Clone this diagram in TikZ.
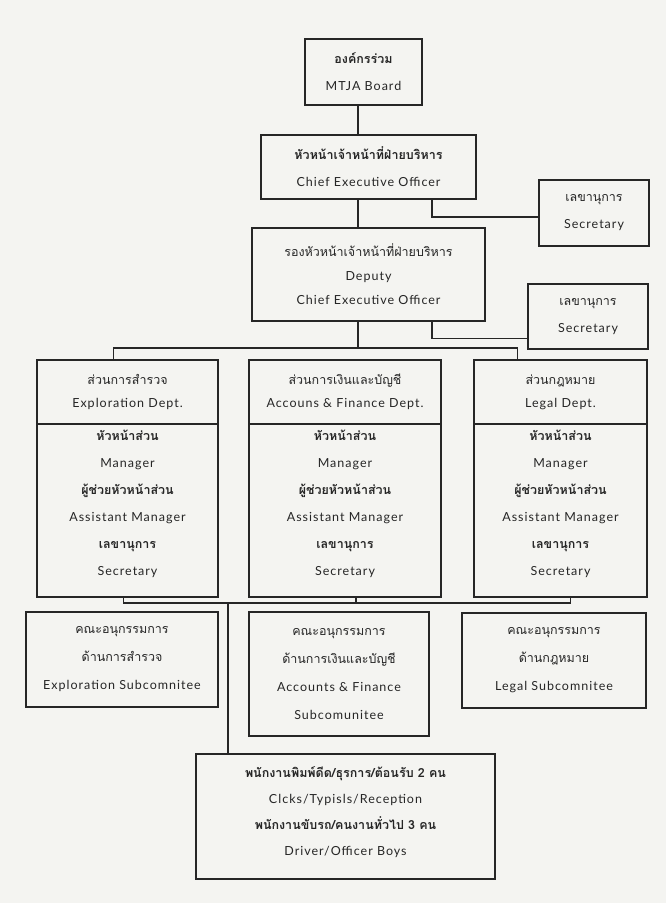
\documentclass[tikz,border=0pt]{standalone}
\usepackage{fontspec}
\setmainfont{Lato}[LetterSpace=8]
\newfontfamily\thai[Script=Thai]{Loma}
\usetikzlibrary{calc}
\definecolor{ink}{gray}{0.15}
\definecolor{paper}{rgb}{0.955,0.955,0.945}
\newcommand\deptstaff{{\thai\bfseries หัวหน้าส่วน}\\Manager\\{\thai\bfseries ผู้ช่วยหัวหน้าส่วน}\\Assistant Manager\\{\thai\bfseries เลขานุการ}\\Secretary\\[-12pt]\mbox{}}

\begin{document}
\begin{tikzpicture}[x=1pt,y=-1pt,
  box/.style={draw=ink,line width=1.1pt,inner sep=0pt,outer sep=0pt,align=center,text=ink,font=\fontsize{12.5}{27}\selectfont},
  link/.style={draw=ink,line width=1.1pt}]
\fill[paper] (0,0) rectangle (666,903);
\useasboundingbox (0,0) rectangle (666,903);

\node[box,minimum width=117,minimum height=66] (board) at (363.5,72) {{\thai\bfseries องค์กรร่วม}\\MTJA Board};
\node[box,minimum width=215,minimum height=64] (ceo) at (368.5,167) {{\thai\bfseries หัวหน้าเจ้าหน้าที่ฝ่ายบริหาร}\\Chief Executive Officer};
\node[box,minimum width=110,minimum height=66] (sec1) at (594,213) {{\thai เลขานุการ}\\Secretary};
\node[box,minimum width=233,minimum height=93] (dep) at (368.5,274.5) {{\thai รองหัวหน้าเจ้าหน้าที่ฝ่ายบริหาร}\\[-3pt]Deputy\\[-3pt]Chief Executive Officer};
\node[box,minimum width=120,minimum height=65] (sec2) at (588,316.5) {{\thai เลขานุการ}\\Secretary};

\node[box,minimum width=181,minimum height=64] (expl) at (127.5,392) {{\thai ส่วนการสำรวจ}\\[-4pt]Exploration Dept.};
\node[box,minimum width=181,minimum height=173,anchor=north] (explbody) at (expl.south) {\deptstaff};
\node[box,minimum width=192,minimum height=64] (acc) at (345,392) {{\thai ส่วนการเงินและบัญชี}\\[-4pt]Accouns \& Finance Dept.};
\node[box,minimum width=192,minimum height=173,anchor=north] (accbody) at (acc.south) {\deptstaff};
\node[box,minimum width=173,minimum height=64] (legal) at (560.5,392) {{\thai ส่วนกฎหมาย}\\[-4pt]Legal Dept.};
\node[box,minimum width=173,minimum height=173,anchor=north] (legalbody) at (legal.south) {\deptstaff};

\node[box,minimum width=192,minimum height=95] (explsub) at (122,659.5) {{\thai คณะอนุกรรมการ}\\[1pt]{\thai ด้านการสำรวจ}\\[1pt]Exploration Subcomnitee};
\node[box,minimum width=180,minimum height=124] (accsub) at (339,674) {{\thai คณะอนุกรรมการ}\\[1pt]{\thai ด้านการเงินและบัญชี}\\[1pt]Accounts \& Finance\\[1pt]Subcomunitee};
\node[box,minimum width=184,minimum height=95] (legalsub) at (554,660.5) {{\thai คณะอนุกรรมการ}\\[1pt]{\thai ด้านกฎหมาย}\\[1pt]Legal Subcomnitee};
\node[box,minimum width=299,minimum height=125] (staff) at (345.5,816.5) {{\thai\bfseries พนักงานพิมพ์ดีด/ธุรการ/ต้อนรับ 2 คน}\\[-1pt]Clcks/Typisls/Reception\\[-1pt]{\thai\bfseries พนักงานขับรถ/คนงานทั่วไป 3 คน}\\[-1pt]Driver/Officer Boys\\[-17pt]\mbox{}};

\coordinate (spine) at (358,0);
\coordinate (tap) at (432,0);
\coordinate (drop) at (228,0);
\coordinate (bus) at (0,348);
\coordinate (lowbus) at (0,603);
\coordinate (sec1in) at ([yshift=-4pt]sec1.west);
\coordinate (sec2in) at ([yshift=-22pt]sec2.west);
\coordinate (explin) at ([xshift=-14pt]expl.north);
\coordinate (legalin) at ([xshift=-43pt]legal.north);
\coordinate (explout) at ([xshift=-4pt]explbody.south);
\coordinate (accout) at ([xshift=11pt]accbody.south);
\coordinate (legalout) at ([xshift=10pt]legalbody.south);

\draw[link] (board.south -| spine) -- (ceo.north -| spine);
\draw[link] (ceo.south -| spine) -- (dep.north -| spine);
\draw[link] (ceo.south -| tap) |- (sec1in);
\draw[link] (dep.south -| tap) |- (sec2in);
\draw[link] (dep.south -| spine) -- (spine |- bus);
\draw[link] (explin) -- (explin |- bus) -- (legalin |- bus) -- (legalin);
\draw[link] (explout) -- (explout |- lowbus) -- (legalout |- lowbus) -- (legalout);
\draw[link] (accout) -- (accout |- lowbus);
\draw[link] (drop |- lowbus) -- (drop |- staff.north);
\end{tikzpicture}
\end{document}
